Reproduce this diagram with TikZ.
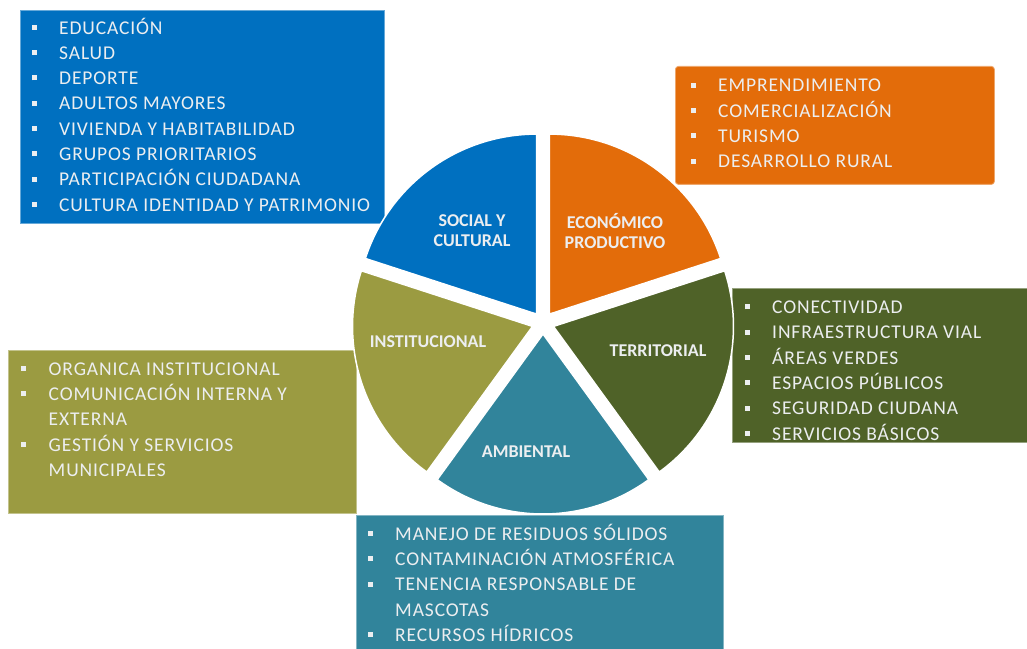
\documentclass[tikz,border=0pt]{standalone}
\usepackage{fontspec}
\setmainfont{Carlito}
\newfontfamily\listfont[LetterSpace=4.5]{Carlito}
\usetikzlibrary{positioning,calc}
\definecolor{socblue}{RGB}{0,112,192}
\definecolor{ecoorange}{RGB}{227,108,10}
\definecolor{terrgreen}{RGB}{79,98,40}
\definecolor{ambteal}{RGB}{49,132,155}
\definecolor{insolive}{RGB}{155,155,65}
\definecolor{txtwhite}{RGB}{236,238,240}
\newcommand{\bul}{\strut\makebox[27.5pt][l]{\raisebox{4.3pt}{\rule{5pt}{5pt}}}}
\newcommand{\cont}{\strut\hspace*{27.5pt}}

\begin{document}
\begin{tikzpicture}[x=1pt,y=1pt,
  panel/.style={draw=#1!60!white,line width=0.8pt,fill=#1,anchor=north west,inner sep=0pt},
  list/.style={anchor=north west,inner sep=0pt,align=left,text=txtwhite,font=\listfont\fontsize{19.5}{25.3}\selectfont},
  slicelabel/.style={align=center,text=txtwhite,font=\bfseries\fontsize{18}{19.7}\selectfont}]
\useasboundingbox (0,0) rectangle (1027,648);
% boxes with the topics
\node[panel=socblue,minimum width=364pt,minimum height=213pt] (socbox) at (20,638) {};
\node[panel=ecoorange,rounded corners=3pt,minimum width=319pt,minimum height=118pt] (ecobox) at (675,582) {};
\node[panel=terrgreen,minimum width=300pt,minimum height=154pt] (terbox) at (732,360) {};
\node[panel=insolive,minimum width=348pt,minimum height=163pt] (insbox) at (8,298) {};
\node[panel=ambteal,minimum width=367pt,minimum height=140pt] (ambbox) at (356,133) {};
% pie
\coordinate (c) at (543,325);
\foreach \s/\col in {18/ecoorange,90/socblue,162/insolive,234/ambteal,306/terrgreen}
  \filldraw[fill=\col,draw=white,line width=1.5pt] ($(c)+(\s+36:11)$) -- ++(\s:180) arc[start angle=\s,end angle=\s+72,radius=180] -- cycle;
\node[slicelabel] (social) at (472,417) {SOCIAL Y\\CULTURAL};
\node[slicelabel] (economico) at (615,417) {ECONÓMICO\\PRODUCTIVO};
\node[slicelabel] (institucional) at (428,306) {INSTITUCIONAL};
\node[slicelabel] (territorial) at (658,297) {TERRITORIAL};
\node[slicelabel] (ambiental) at (526,196) {AMBIENTAL};
% lists
\node[list] (soclist) at ([shift={(11.5,-6.1)}]socbox.north west) {\bul EDUCACIÓN\\\bul SALUD\\\bul DEPORTE\\\bul ADULTOS MAYORES\\\bul VIVIENDA Y HABITABILIDAD\\\bul GRUPOS PRIORITARIOS\\\bul PARTICIPACIÓN CIUDADANA\\\bul CULTURA IDENTIDAD Y PATRIMONIO};
\node[list] (ecolist) at ([shift={(15.5,-8)}]ecobox.north west) {\bul EMPRENDIMIENTO\\\bul COMERCIALIZACIÓN\\\bul TURISMO\\\bul DESARROLLO RURAL};
\node[list] (terlist) at ([shift={(12.5,-7.7)}]terbox.north west) {\bul CONECTIVIDAD\\\bul INFRAESTRUCTURA VIAL\\\bul ÁREAS VERDES\\\bul ESPACIOS PÚBLICOS\\\bul SEGURIDAD CIUDANA\\\bul SERVICIOS BÁSICOS};
\node[list] (inslist) at ([shift={(13,-7.3)}]insbox.north west) {\bul ORGANICA INSTITUCIONAL\\\bul COMUNICACIÓN INTERNA Y\\\cont EXTERNA\\\bul GESTIÓN Y SERVICIOS\\\cont MUNICIPALES};
\node[list] (amblist) at ([shift={(11.5,-7.3)}]ambbox.north west) {\bul MANEJO DE RESIDUOS SÓLIDOS\\\bul CONTAMINACIÓN ATMOSFÉRICA\\\bul TENENCIA RESPONSABLE DE\\\cont MASCOTAS\\\bul RECURSOS HÍDRICOS};
\end{tikzpicture}
\end{document}
